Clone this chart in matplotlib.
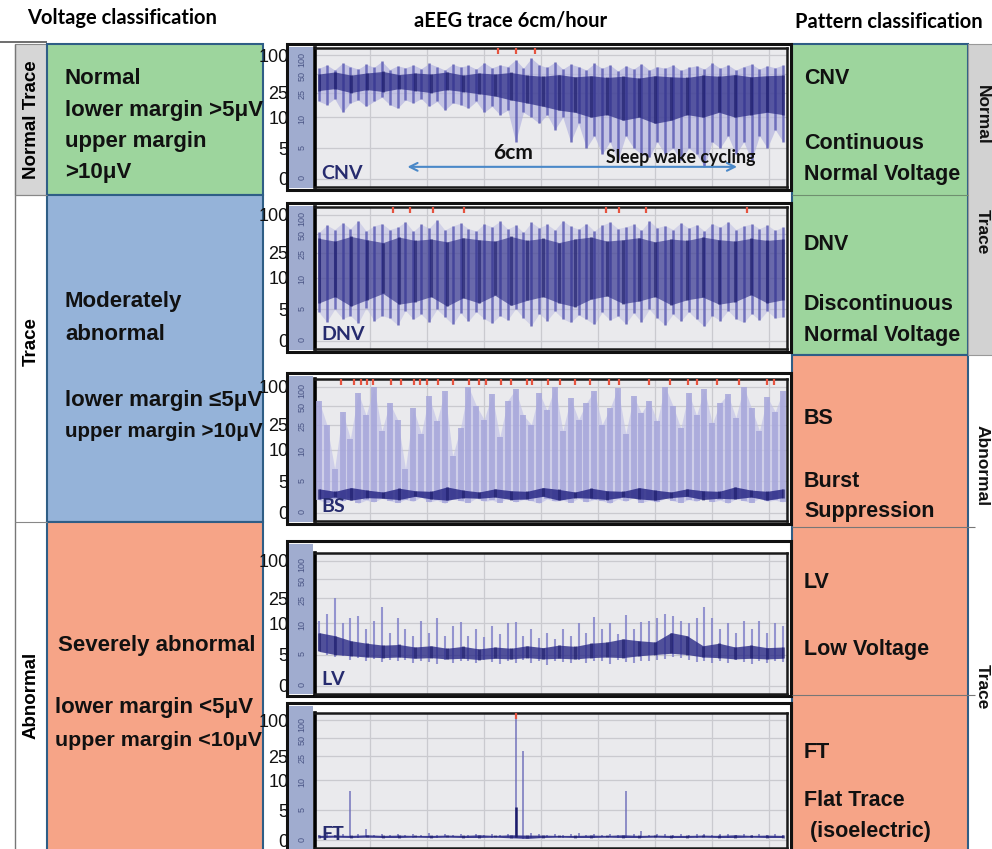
import numpy as np
import matplotlib
matplotlib.use("Agg")
import matplotlib.pyplot as plt
from matplotlib.patches import Rectangle
from matplotlib import font_manager

# ---------------- data (values in microvolts) ----------------
panel_names = ["CNV", "DNV", "BS", "LV", "FT"]

cnv_upper = [62, 70, 58, 75, 66, 60, 72, 64, 80, 59, 68, 63, 70, 61, 74, 66, 58, 72, 65, 69,
             60, 76, 63, 70, 66, 85, 62, 90, 70, 64, 78, 60, 72, 66, 58, 74, 62, 70, 56, 68,
             60, 73, 58, 66, 62, 70, 57, 64, 68, 60, 75, 62, 70, 58, 66, 72, 60, 68, 63, 70]
cnv_lower = [18, 16, 20, 12, 17, 19, 15, 18, 21, 16, 14, 19, 17, 20, 15, 18, 13, 17, 16, 14,
             18, 12, 15, 11, 13, 6, 12, 10, 9, 11, 8, 10, 6, 9, 5, 7, 4, 6, 3, 7,
             5, 4, 3.5, 6, 4, 5, 3, 5, 4, 2, 6, 5, 7, 4, 6, 3, 7, 5, 8, 6]
cnv_core_hi = [50, 54, 48, 52, 55, 49, 52, 50, 54, 48, 52, 50, 53, 48, 46, 49, 45, 47, 44, 46,
               43, 47, 45, 44, 48, 46, 49, 45, 47, 48]
cnv_core_lo = [27, 29, 25, 28, 26, 29, 27, 25, 28, 26, 24, 22, 19, 17, 15, 13, 12, 10, 11, 9.5,
               10, 9, 9.5, 11, 10, 12, 10, 11, 12, 11]
cnv_events = [22.8, 25.0, 27.5]

dnv_upper = [52, 68, 58, 74, 60, 80, 55, 66, 72, 58, 63, 77, 54, 70, 61, 82, 57, 66, 73, 60,
             55, 71, 64, 78, 59, 68, 52, 75, 62, 70, 57, 80, 65, 59, 72, 55, 68, 76, 60, 64,
             70, 56, 79, 62, 67, 58, 74, 61, 69, 55, 72, 63, 77, 58, 66, 71, 60, 68, 56, 64]
dnv_lower = [4.5, 3, 5, 3.5, 4, 2.8, 5.2, 3.2, 4, 3.6, 2.5, 4.8, 3.4, 4.2, 3, 5, 3.8, 2.6, 4.4, 3.1,
             4.6, 3.5, 2.8, 4, 3.3, 5.1, 3.6, 2.4, 4.3, 3.2, 4.7, 3.5, 2.9, 4.1, 3.4, 2.6, 4.5, 3.3, 3.9, 2.7,
             4.4, 3, 5, 3.6, 2.5, 4.2, 3.1, 4.6, 3.4, 2.3, 4, 3.2, 4.8, 3.5, 2.9, 4.3, 3.3, 4.7, 3.6, 3.8]
dnv_core_hi = [42, 38, 45, 40, 36, 44, 39, 41, 37, 43, 40, 38, 45, 39, 42, 36, 41, 44, 38, 40,
               43, 37, 41, 39, 44, 40, 38, 42, 39, 41]
dnv_core_lo = [6, 7, 5.5, 6.5, 7.5, 5.8, 6.2, 7, 5.5, 6.8, 6, 7.2, 5.6, 6.4, 7, 6, 5.4, 6.6, 7.1, 5.9,
               6.3, 7, 5.7, 6.5, 6.9, 5.8, 6.2, 7.3, 6, 6.5]
dnv_events = [9.4, 11.6, 14.5, 18.4, 36.5, 38.1, 41.6, 54.4]

bs_upper = [60, 25, 7, 40, 15, 80, 35, 100, 20, 55, 30, 7, 45, 18, 70, 28, 85, 9, 22, 100,
            50, 30, 75, 16, 60, 90, 35, 25, 80, 42, 100, 20, 65, 30, 55, 85, 25, 45, 95, 18,
            70, 38, 60, 28, 100, 50, 22, 80, 35, 90, 26, 55, 75, 32, 100, 45, 20, 68, 40, 85]
bs_lower = [2, 1.6, 2.2, 1.8, 2.4, 1.5, 2, 1.7, 2.3, 1.9, 1.6, 2.1, 1.8, 2.5, 1.7, 2, 1.5, 2.2, 1.9, 1.6,
            2.3, 1.8, 2, 1.6, 2.4, 1.7, 2.1, 1.9, 1.5, 2.2, 1.8, 2, 1.6, 2.3, 1.7, 2.1, 1.9, 1.5, 2.2, 1.8,
            2.4, 1.6, 2, 1.7, 2.3, 1.9, 1.6, 2.1, 1.8, 2.5, 1.7, 2, 1.5, 2.2, 1.9, 1.6, 2.3, 1.8, 2, 1.7]
bs_core_hi = [3.8, 3.4, 4.0, 3.6, 3.3, 3.9, 3.5, 3.4, 4.1, 3.6, 3.3, 3.8, 3.5, 3.4, 4.0, 3.7, 3.3, 3.9,
              3.5, 3.4, 4.0, 3.6, 3.3, 3.8, 3.5, 3.4, 4.1, 3.6, 3.4, 3.8]
bs_core_lo = [2.2, 2.5, 2, 2.4, 2.3, 2.1, 2.6, 2.2, 2, 2.4, 2.3, 2.5, 2.1, 2.2, 2.6, 2, 2.4, 2.3, 2.1, 2.5,
              2.2, 2, 2.4, 2.6, 2.1, 2.3, 2.2, 2.5, 2, 2.4]
bs_events = [2.75, 4.4, 5.4, 6.1, 6.9, 9.1, 10.4, 12.1, 12.9, 13.75, 15.1, 17.1, 19.1, 20.4, 21.25,
             23.1, 24.4, 26.5, 27.1, 29.1, 30.6, 32.5, 34.4, 36.9, 38.1, 41.9, 44.6, 46.9, 48.1,
             50.6, 53.4, 56.9, 57.9]

lv_upper = [11, 14, 25, 10, 12, 13, 9, 11, 18, 8.5, 12, 9, 8, 11, 8.5, 12, 8, 9.5, 10.5, 8,
            9, 7.8, 9.5, 8.2, 10, 10.5, 8, 9, 7.6, 8.5, 7.5, 9, 8, 10, 8.5, 12.4, 9, 10, 8.2, 13.4,
            9, 10.5, 11, 12, 14, 13, 11, 10, 12, 18, 12, 9, 10, 8.5, 11, 9, 11, 8.5, 10, 9.5]
lv_lower = [5.5, 5, 4.6, 4.8, 4.2, 4.5, 4, 4.3, 3.8, 4.1, 3.9, 4.2, 3.6, 4, 3.8, 3.5, 4.1, 3.7, 4, 3.9,
            3.6, 4.2, 3.8, 3.5, 4, 3.7, 4.1, 3.6, 3.9, 3.4, 4, 3.8, 3.6, 4.1, 3.7, 4, 3.9, 3.5, 4.2, 3.8,
            3.6, 4, 3.9, 4.1, 4.3, 4.6, 4.4, 4.1, 3.8, 4, 3.7, 3.9, 3.6, 4.1, 3.8, 3.5, 4, 3.7, 3.9, 3.8]
lv_core_hi = [8.5, 8, 7.2, 6.8, 6.5, 6.6, 6.2, 6.4, 6, 6.3, 5.9, 6.2, 6, 6.4, 6.1, 6.5, 6.3, 6.8, 7, 7.5,
              7.2, 7, 8.5, 8, 6.4, 6.8, 6.2, 6.5, 6.1, 6.2]
lv_core_lo = [5.5, 5, 4.8, 4.6, 4.5, 4.6, 4.4, 4.5, 4.3, 4.4, 4.2, 4.4, 4.3, 4.5, 4.3, 4.4, 4.3, 4.5, 4.6, 4.5,
              4.8, 5, 5.2, 5, 4.6, 4.5, 4.3, 4.4, 4.3, 4.4]
lv_events = []

ft_upper = [0.9, 1.0, 0.9, 1.1, 8.2, 1.0, 1.8, 0.9, 1.0, 0.9, 1.1, 0.9, 1.0, 0.9, 1.2, 0.9, 1.0, 0.9, 1.1, 0.9,
            1.0, 0.9, 1.1, 0.9, 1.0, 110, 31, 1.2, 1.0, 0.9, 1.1, 0.9, 1.0, 1.2, 0.9, 1.0, 0.9, 1.1, 0.9, 8.2,
            1.0, 1.6, 0.9, 1.0, 1.1, 0.9, 1.0, 0.9, 1.1, 1.0, 0.9, 1.0, 1.1, 0.9, 1.0, 0.9, 1.1, 0.9, 1.0, 0.9]
ft_lower = [0.5, 0.45, 0.5, 0.55, 0.5, 0.45, 0.5, 0.5, 0.45, 0.5, 0.55, 0.5, 0.45, 0.5, 0.5, 0.45, 0.5, 0.55, 0.5, 0.45,
            0.5, 0.5, 0.45, 0.5, 0.5, 0.4, 0.2, 0.35, 0.45, 0.5, 0.5, 0.45, 0.5, 0.55, 0.5, 0.45, 0.5, 0.5, 0.45, 0.4,
            0.5, 0.45, 0.5, 0.55, 0.5, 0.45, 0.5, 0.5, 0.45, 0.5, 0.55, 0.5, 0.45, 0.5, 0.5, 0.45, 0.5, 0.55, 0.5, 0.45]
ft_core_hi = [0.8, 0.85, 0.8, 0.9, 0.8, 0.85, 0.8, 0.8, 0.85, 0.8, 0.9, 0.8, 0.9, 0.85, 0.85, 0.8, 0.8, 0.85, 0.8, 0.9,
              0.8, 0.85, 0.8, 0.8, 0.85, 0.8, 0.9, 0.8, 0.85, 0.8]
ft_core_lo = [0.45, 0.5, 0.45, 0.5, 0.45, 0.45, 0.5, 0.45, 0.5, 0.45, 0.45, 0.5, 0.4, 0.3, 0.45, 0.5, 0.45, 0.45, 0.5, 0.45,
              0.45, 0.5, 0.45, 0.45, 0.5, 0.45, 0.45, 0.5, 0.45, 0.45]
ft_burst_x = [25.0]
ft_burst_hi = [5.5]
ft_events = [25.0]

inner_ticks = [0, 5, 10, 25, 50, 100]
outer_ticks = [0, 5, 10, 25, 100]

# ---------------- fonts ----------------
def have(name):
    try:
        font_manager.findfont(font_manager.FontProperties(family=name), fallback_to_default=False)
        return True
    except Exception:
        return False

ARIAL = ["Liberation Sans", "DejaVu Sans"]
NARROW = (["Liberation Sans Narrow"] if have("Liberation Sans Narrow") else []) + ARIAL
HEAD = (["Lato"] if have("Lato") else []) + ["DejaVu Sans"]
plt.rcParams["font.family"] = ARIAL

# ---------------- figure ----------------
W, H = 992, 849
fig = plt.figure(figsize=(W / 100, H / 100), dpi=100)
bg = fig.add_axes([0, 0, 1, 1])
bg.set_xlim(0, W)
bg.set_ylim(H, 0)
bg.axis("off")


def rect(x0, y0, x1, y1, fc, ec="none", lw=0.0, z=1):
    bg.add_patch(Rectangle((x0, y0), x1 - x0, y1 - y0, facecolor=fc, edgecolor=ec, linewidth=lw, zorder=z))


def hline(y, x0, x1, color, lw=1.0, z=3):
    bg.plot([x0, x1], [y, y], color=color, lw=lw, zorder=z, solid_capstyle="butt")


def vline(x, y0, y1, color, lw=1.0, z=3):
    bg.plot([x, x], [y0, y1], color=color, lw=lw, zorder=z, solid_capstyle="butt")


GREEN = "#9DD59D"
BLUE = "#95B3D9"
SALMON = "#F6A487"
GREY = "#D6D6D6"
BORDER = "#2F5E86"

# headers
bg.text(27, 18, "Voltage classification", fontsize=14.5, fontweight="bold", family=HEAD, va="center", ha="left")
bg.text(511, 20, "aEEG trace 6cm/hour", fontsize=14.5, fontweight="bold", family=HEAD, va="center", ha="center")
bg.text(795, 22, "Pattern classification", fontsize=14.5, fontweight="bold", family=HEAD, va="center", ha="left")

# left category column
hline(42, 0, 47, "#555555", 1.2)
rect(15, 44, 47, 195, GREY, "#888888", 0.8)
vline(15, 44, 849, "#777777", 1.0)
hline(195, 15, 47, "#888888", 0.8)
hline(522, 15, 47, "#888888", 0.8)
bg.text(31, 120, "Normal Trace", rotation=90, fontsize=13.5, fontweight="bold", va="center", ha="center")
bg.text(31, 342, "Trace", rotation=90, fontsize=13.5, fontweight="bold", va="center", ha="center")
bg.text(31, 695, "Abnormal", rotation=90, fontsize=13.5, fontweight="bold", va="center", ha="center")

# left voltage boxes
rect(47, 44, 263, 195, GREEN, BORDER, 1.5)
rect(47, 195, 263, 522, BLUE, BORDER, 1.5)
rect(47, 522, 263, 860, SALMON, BORDER, 1.5)
left_lines = [(65, 78, "Normal", 16), (65, 110, "lower margin >5μV", 16), (65, 141, "upper margin", 16),
              (65, 172, ">10μV", 16),
              (65, 302, "Moderately", 16), (65, 334, "abnormal", 16), (65, 400, "lower margin ≤5μV", 16),
              (65, 431, "upper margin >10μV", 14.8),
              (58, 645, "Severely abnormal", 16), (55, 708, "lower margin <5μV", 16),
              (55, 740, "upper margin <10μV", 15.4)]
for x, y, s, fs in left_lines:
    bg.text(x, y, s, fontsize=fs, fontweight="bold", va="center", ha="left", color="#111111", zorder=5)

# right pattern boxes
rect(792, 44, 968, 355, GREEN, BORDER, 1.5)
rect(792, 355, 968, 860, SALMON, BORDER, 1.5)
hline(195, 792, 968, "#6F8F6F", 0.8, z=4)
hline(527, 792, 975, "#777777", 0.8, z=4)
hline(695, 792, 975, "#777777", 0.8, z=4)
right_lines = [(804, 78, "CNV"), (804, 143, "Continuous"), (804, 174, "Normal Voltage"),
               (804, 244, "DNV"), (804, 304, "Discontinuous"), (804, 336, "Normal Voltage"),
               (804, 418, "BS"), (804, 481, "Burst"), (804, 512, "Suppression"),
               (804, 582, "LV"), (804, 650, "Low Voltage"),
               (804, 752, "FT"), (804, 800, "Flat Trace"), (804, 831, " (isoelectric)")]
for x, y, s in right_lines:
    bg.text(x, y, s, fontsize=15.5, fontweight="bold", va="center", ha="left", color="#111111", zorder=5)

rect(968, 44, 995, 355, "#D2D2D2", "#999999", 0.8)
for y, s in [(115, "Normal"), (232, "Trace"), (466, "Abnormal"), (687, "Trace")]:
    bg.text(982, y, s, rotation=-90, fontsize=12.5, fontweight="bold", va="center", ha="center", color="#111111")

# ---------------- aEEG traces ----------------
def fwd(v):
    v = np.asarray(v, dtype=float)
    return np.where(v <= 10, v / 10.0, 1 + np.log10(np.maximum(v, 10) / 10.0))


def inv(t):
    t = np.asarray(t, dtype=float)
    return np.where(t <= 1, t * 10.0, 10.0 * 10 ** (np.maximum(t, 1) - 1))


YLO, YHI = float(inv(-0.13)), float(inv(2.12))

traces = {
    "CNV": (cnv_upper, cnv_lower, cnv_core_hi, cnv_core_lo, cnv_events),
    "DNV": (dnv_upper, dnv_lower, dnv_core_hi, dnv_core_lo, dnv_events),
    "BS": (bs_upper, bs_lower, bs_core_hi, bs_core_lo, bs_events),
    "LV": (lv_upper, lv_lower, lv_core_hi, lv_core_lo, lv_events),
    "FT": (ft_upper, ft_lower, ft_core_hi, ft_core_lo, ft_events),
}
# layout (pixels): axes top/bottom, frame top/bottom
layout = {"CNV": (48, 187, 44, 190), "DNV": (207, 349, 203, 352), "BS": (379, 521, 373, 524),
          "LV": (553, 694, 541, 696), "FT": (713, 848, 703, 870)}
# envelope fill colour (None = no fill), fill alpha, spike colour, spike width, core alpha
style = {"CNV": ("#B4B4E0", 0.7, "#5E5EB4", 1.8, 0.72),
         "DNV": ("#B4B4E0", 0.45, "#5E5EB4", 1.8, 0.62),
         "BS": ("#C4C4E8", 0.7, "#A6A6DA", 4.2, 0.85),
         "LV": (None, 0.0, "#8585CA", 1.5, 0.8),
         "FT": (None, 0.0, "#6A6AB8", 1.2, 0.9)}
X0, X1 = 315, 787


def px_axes(x0, y0, x1, y1):
    return fig.add_axes([x0 / W, 1 - y1 / H, (x1 - x0) / W, (y1 - y0) / H])


for name in panel_names:
    up, lo, chi, clo, ev = traces[name]
    atop, abot, ftop, fbot = layout[name]
    fill_c, fill_a, spike_c, spike_lw, core_a = style[name]

    # frame and scale strip
    rect(287, ftop, 791, fbot, "white", "#111111", 2.2, z=2)
    rect(289, ftop + 3, 313, fbot - 2, "#A0ACCF", z=2)

    ax = px_axes(X0, atop, X1, abot)
    ax.set_facecolor("#EAEAED")
    ax.set_yscale("function", functions=(fwd, inv))
    ax.set_ylim(YLO, YHI)
    n = len(up)
    x = np.arange(n)
    ax.set_xlim(-0.5, n - 0.5)
    xc = np.linspace(0, n - 1, len(chi))

    if fill_c is not None:
        ax.fill_between(x, lo, up, color=fill_c, alpha=fill_a, lw=0, zorder=2)
    ax.vlines(x, lo, up, color=spike_c, lw=spike_lw, alpha=0.85, zorder=3)
    ax.fill_between(xc, clo, chi, color="#2A2A86", alpha=core_a, lw=0, zorder=4)
    ax.vlines(xc, clo, chi, color="#1C1C6A", lw=2.2, alpha=0.6, zorder=4)
    if name == "FT":
        ax.vlines(ft_burst_x, np.full(len(ft_burst_x), 0.5), ft_burst_hi, color="#1C1C6A", lw=1.8, zorder=5)
    if ev:
        ax.plot(ev, np.full(len(ev), 118.0), ls="none", marker="|", ms=4.5, mew=1.6,
                color="#E5533F", zorder=6, clip_on=False)

    ax.set_yticks(inner_ticks)
    ax.set_yticklabels([str(t) for t in inner_ticks], rotation=90, fontsize=6.5, color="#4A5585")
    ax.tick_params(axis="y", length=0, pad=6)
    ax.set_xticks(np.arange(6.5, n, 7.25))
    ax.tick_params(axis="x", length=0, labelbottom=False)
    ax.grid(True, color="#CACACF", lw=0.9, zorder=0)
    ax.set_axisbelow(True)
    for s in ["top", "right", "bottom"]:
        ax.spines[s].set_color("#1A1A1A")
        ax.spines[s].set_linewidth(1.8)
    ax.spines["left"].set_color("black")
    ax.spines["left"].set_linewidth(2.6)

    ax.text(0.013, 0.1, name, transform=ax.transAxes, fontsize=14, fontweight="bold",
            family=HEAD, color="#262B6E", ha="left", va="center", zorder=7)

    # outer typed scale labels
    ax2 = px_axes(X0, atop, X1, abot)
    ax2.set_yscale("function", functions=(fwd, inv))
    ax2.set_ylim(YLO, YHI)
    ax2.patch.set_visible(False)
    for s in ax2.spines.values():
        s.set_visible(False)
    ax2.set_xticks([])
    ax2.set_yticks(outer_ticks)
    ax2.set_yticklabels([str(t) for t in outer_ticks], fontsize=13, family=NARROW, color="#111111")
    ax2.tick_params(axis="y", length=0, pad=19)

    if name == "CNV":
        ax.annotate("", xy=(0.90, 0.145), xytext=(0.19, 0.145), xycoords="axes fraction",
                    arrowprops=dict(arrowstyle="<->", color="#4A88C8", lw=1.5, mutation_scale=14), zorder=7)
        ax.text(0.42, 0.245, "6cm", transform=ax.transAxes, fontsize=15, fontweight="bold",
                family=HEAD, ha="center", va="center", color="#111111", zorder=7)
        ax.text(0.775, 0.21, "Sleep wake cycling", transform=ax.transAxes, fontsize=12.8, fontweight="bold",
                family=HEAD, ha="center", va="center", color="#111111", zorder=7)

fig.savefig("out.png", dpi=100)
